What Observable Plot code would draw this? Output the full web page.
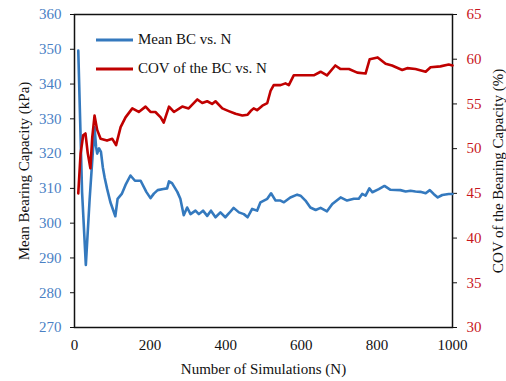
<!DOCTYPE html>
<html>
<head>
<meta charset="utf-8">
<script src="https://cdn.jsdelivr.net/npm/d3@7"></script>
<script src="https://cdn.jsdelivr.net/npm/@observablehq/plot@0.6"></script>
<style>
  html, body { margin: 0; padding: 0; background: #fff; }
  #chart { position: relative; width: 506px; height: 381px; font-family: "Liberation Serif", "Times New Roman", serif; }
  #chart svg text { font-family: "Liberation Serif", "Times New Roman", serif !important; font-variant: normal !important; }
  .legend { position: absolute; left: 96px; top: 25px; font-size: 15px; color: #111; }
  .legend .row { display: flex; align-items: center; height: 29px; }
  .legend svg { margin-right: 5px; }
</style>
</head>
<body>
<div id="chart"></div>
<script>
// Number of simulations and running mean bearing capacity (kPa)
const meanN = [10, 20, 30, 40, 53, 57, 60, 65, 70, 75, 80, 86, 95, 108, 114, 125, 135, 148, 160, 175,
  190, 201, 210, 220, 235, 245, 250, 258, 272, 280, 289, 298, 307, 320, 329, 340, 351, 361, 373, 386,
  399, 410, 421, 435, 448, 458, 470, 483, 492, 510, 520, 532, 545, 554, 571, 589, 598, 611, 624, 638,
  651, 668, 682, 704, 721, 739, 752, 761, 770, 780, 788, 805, 820, 836, 862, 876, 889, 902, 915, 929,
  940, 950, 961, 973, 990, 1000];
const meanBC = [349.6, 309, 288, 306.8, 327.6, 322, 320, 321.5, 320.5, 316, 313, 310, 306, 302, 307, 308.4, 311, 313.7, 312.2, 312.2,
  309, 307.2, 308.5, 309.5, 309.8, 310, 312, 311.5, 309, 307, 302.3, 304.5, 302.6, 303.6, 302.6, 303.6, 302.1, 303.6, 301.7, 303.1,
  301.7, 303, 304.4, 303.1, 302.6, 301.7, 304.1, 303.6, 306, 307, 308.6, 306.5, 306.5, 306, 307.4, 308.2, 307.9, 306.5, 304.5, 303.8,
  304.4, 303.4, 305.5, 307.4, 306.5, 307, 307, 308.4, 307.9, 310, 308.9, 309.8, 310.7, 309.6, 309.5, 309.1, 309.3, 309.1, 309, 308.6,
  309.5, 308.4, 307.4, 308.1, 308.4, 308.4];

// Number of simulations and running coefficient of variation (%)
const covN = [10, 16, 23, 29, 35, 42, 47, 53, 60, 69, 86, 100, 110, 122, 135, 153, 170, 188, 201, 214,
  228, 236, 250, 263, 285, 302, 325, 338, 351, 364, 373, 391, 408, 426, 444, 458, 466, 474, 483, 497,
  510, 519, 527, 545, 558, 567, 580, 598, 633, 651, 668, 690, 704, 726, 748, 770, 781, 802, 823, 840,
  867, 880, 902, 929, 942, 968, 990, 1000];
const covBC = [45, 49.4, 51.5, 51.7, 49.5, 47.8, 51.3, 53.7, 52.1, 51.1, 50.9, 51.1, 50.4, 52.4, 53.5, 54.5, 54.1, 54.7, 54.1, 54.1,
  53.5, 52.9, 54.7, 54.1, 54.7, 54.5, 55.5, 55.1, 55.3, 55, 55.3, 54.5, 54.2, 53.9, 53.7, 53.8, 54.2, 54.5, 54.3, 54.8,
  55.1, 56.5, 57.1, 57.1, 57.3, 57.1, 58.2, 58.2, 58.2, 58.6, 58.2, 59.3, 58.9, 58.9, 58.5, 58.4, 60, 60.2, 59.5, 59.3,
  58.8, 59, 58.9, 58.6, 59.1, 59.2, 59.4, 59.3];

// Axis ticks
const xTicks = [0, 200, 400, 600, 800, 1000];
const meanTicks = [270, 280, 290, 300, 310, 320, 330, 340, 350, 360];
const covTicks = [30, 35, 40, 45, 50, 55, 60, 65];

const seriesNames = ["Mean BC vs. N", "COV of the BC vs. N"];
const blue = "#3479be";
const red = "#c00000";

// The COV axis on the right shares the plot's y scale through a linear map
const meanDomain = [270, 360];
const covDomain = [30, 65];
const covToMean = v => meanDomain[0] + (v - covDomain[0]) * (meanDomain[1] - meanDomain[0]) / (covDomain[1] - covDomain[0]);
const meanToCov = y => covDomain[0] + (y - meanDomain[0]) * (covDomain[1] - covDomain[0]) / (meanDomain[1] - meanDomain[0]);

const meanData = meanN.map((n, i) => ({n, v: meanBC[i]}));
const covData = covN.map((n, i) => ({n, v: covBC[i]}));

const chart = Plot.plot({
  width: 506,
  height: 381,
  marginLeft: 74,
  marginRight: 54,
  marginTop: 14,
  marginBottom: 54,
  style: {fontFamily: "'Liberation Serif', 'Times New Roman', serif", fontSize: "15px", background: "#fff", color: "#111"},
  x: {domain: [0, 1000]},
  y: {domain: meanDomain},
  marks: [
    Plot.axisX(xTicks, {tickSize: 0, tickPadding: 12, label: null, fill: "#111", tickFormat: d => String(d)}),
    Plot.axisY(meanTicks, {anchor: "left", tickSize: 4, tickPadding: 9, label: null, fill: "#4a80c4", stroke: "#111",
      tickFormat: d => String(d)}),
    Plot.axisY(covTicks.map(covToMean), {anchor: "right", tickSize: 4, tickPadding: 10, label: null,
      tickFormat: d => String(Math.round(meanToCov(d))), fill: "#c8161d", stroke: "#111"}),
    Plot.frame({stroke: "#111", strokeWidth: 1.5}),
    Plot.line(meanData, {x: "n", y: "v", stroke: blue, strokeWidth: 2.6, strokeLinejoin: "round"}),
    Plot.line(covData, {x: "n", y: d => covToMean(d.v), stroke: red, strokeWidth: 2.6, strokeLinejoin: "round"}),
    Plot.text(["Number of Simulations (N)"], {frameAnchor: "bottom", dy: 42, text: d => d, fill: "#111",
      textAnchor: "middle", lineAnchor: "middle"}),
    Plot.text(["Mean Bearing Capacity (kPa)"], {frameAnchor: "left", dx: -50, rotate: -90, text: d => d, fill: "#111",
      textAnchor: "middle", lineAnchor: "middle"}),
    Plot.text(["COV of the Bearing Capacity (%)"], {frameAnchor: "right", dx: 46, rotate: -90, text: d => d, fill: "#111",
      textAnchor: "middle", lineAnchor: "middle"})
  ]
});

const root = document.getElementById("chart");
root.appendChild(chart);

// Legend drawn over the top-left of the plot area
const legend = document.createElement("div");
legend.className = "legend";
[blue, red].forEach((c, i) => {
  const row = document.createElement("div");
  row.className = "row";
  row.innerHTML = `<svg width="37" height="6"><line x1="0" x2="37" y1="3" y2="3" stroke="${c}" stroke-width="2.8"/></svg><span>${seriesNames[i]}</span>`;
  legend.appendChild(row);
});
root.appendChild(legend);
</script>
</body>
</html>
